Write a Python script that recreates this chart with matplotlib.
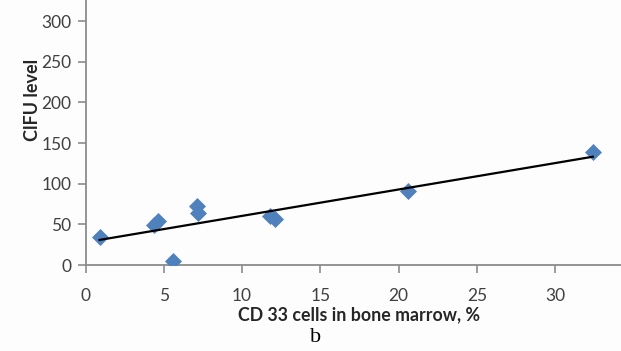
import numpy as np
import matplotlib
matplotlib.use("Agg")
import matplotlib.pyplot as plt

# CD33 cells (%) vs CIFU level
cd33 = [0.9, 4.4, 4.6, 5.6, 7.1, 7.2, 11.8, 12.1, 20.6, 32.4]
cifu = [35, 49, 54, 5, 73, 64, 60, 56, 91, 139]
xticks = [0, 5, 10, 15, 20, 25, 30]
yticks = [0, 50, 100, 150, 200, 250, 300]

plt.rcParams['font.family'] = ['Lato', 'DejaVu Sans']

fig = plt.figure(figsize=(6.21, 3.51), dpi=100)
fig.patch.set_facecolor('#fdfdfd')
ax = fig.add_axes([85.5 / 621, 86 / 351, 1 - 85.5 / 621, 265 / 351])
ax.set_facecolor('#fdfdfd')

ax.scatter(cd33, cifu, marker='D', s=75, color='#4f81bd', zorder=3, linewidths=0)

# linear trend line
k, b = np.polyfit(cd33, cifu, 1)
xs = np.array([min(cd33), max(cd33)])
ax.plot(xs, k * xs + b, color='black', lw=1.6, zorder=4)

ax.set_xlim(0, 34.2)
ax.set_ylim(0, 326)
ax.set_xticks(xticks)
ax.set_yticks(yticks)

for s in ['top', 'right']:
    ax.spines[s].set_visible(False)
for s in ['left', 'bottom']:
    ax.spines[s].set_color('#8c8c8c')
    ax.spines[s].set_linewidth(1.3)
ax.tick_params(axis='both', colors='#8c8c8c', labelcolor='#404040',
               labelsize=12.5, length=6, width=1.2)
ax.tick_params(axis='x', pad=10.5)
ax.tick_params(axis='y', pad=4)

fig.text(359 / 621, 1 - 315 / 351, 'CD 33 cells in bone marrow, %',
         ha='center', va='center', fontsize=12.8, fontweight='bold', color='#262626')
fig.text(33 / 621, 1 - 100 / 351, 'ClFU level', rotation=90,
         ha='center', va='center', fontsize=13, fontweight='bold', color='#262626')
fig.text(316 / 621, 1 - 337 / 351, 'b', ha='center', va='center',
         fontsize=16, family='Liberation Serif', color='black')

fig.savefig('out.png', dpi=100, facecolor=fig.get_facecolor())
